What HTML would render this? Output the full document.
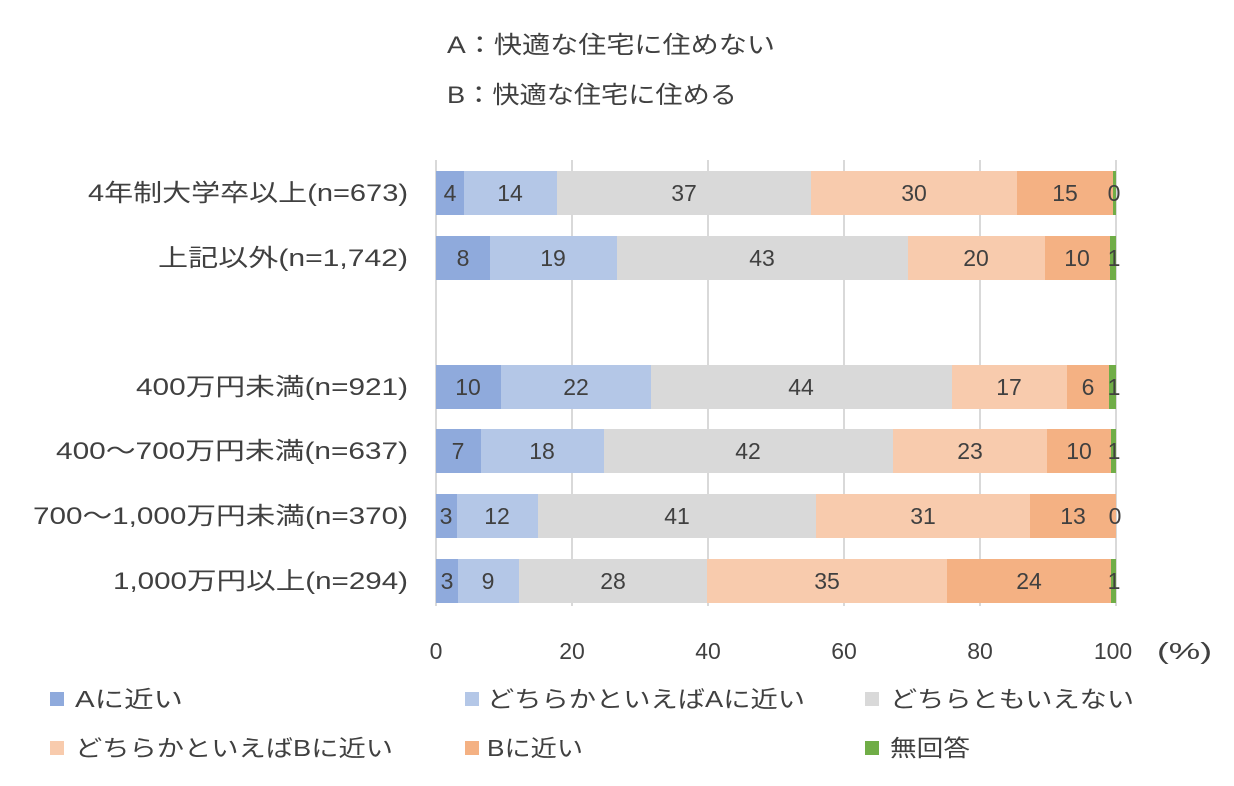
<!DOCTYPE html>
<html><head><meta charset="utf-8"><style>
body{margin:0;background:#fff;}
svg text{font-family:"Liberation Sans","Noto Sans CJK JP",sans-serif;fill:#404040;}
</style></head><body>
<svg width="1234" height="781" xmlns="http://www.w3.org/2000/svg">
<text x="447" y="53" font-size="24" textLength="328" lengthAdjust="spacingAndGlyphs">A：快適な住宅に住めない</text>
<text x="447" y="103" font-size="24" textLength="290" lengthAdjust="spacingAndGlyphs">B：快適な住宅に住める</text>
<g stroke="#d9d9d9" stroke-width="2">
<line x1="436" y1="160" x2="436" y2="606"/>
<line x1="572" y1="160" x2="572" y2="606"/>
<line x1="708" y1="160" x2="708" y2="606"/>
<line x1="844" y1="160" x2="844" y2="606"/>
<line x1="980" y1="160" x2="980" y2="606"/>
<line x1="1116" y1="160" x2="1116" y2="606"/>
</g>
<g>
<rect x="436" y="171" width="28" height="44" fill="#8faadc"/><rect x="464" y="171" width="93" height="44" fill="#b4c7e7"/><rect x="557" y="171" width="254" height="44" fill="#d9d9d9"/><rect x="811" y="171" width="206" height="44" fill="#f8cbad"/><rect x="1017" y="171" width="96" height="44" fill="#f4b183"/><rect x="1113" y="171" width="3" height="44" fill="#70ad47"/>
<rect x="436" y="236" width="54" height="44" fill="#8faadc"/><rect x="490" y="236" width="127" height="44" fill="#b4c7e7"/><rect x="617" y="236" width="291" height="44" fill="#d9d9d9"/><rect x="908" y="236" width="137" height="44" fill="#f8cbad"/><rect x="1045" y="236" width="65" height="44" fill="#f4b183"/><rect x="1110" y="236" width="6" height="44" fill="#70ad47"/>
<rect x="436" y="365" width="65" height="44" fill="#8faadc"/><rect x="501" y="365" width="150" height="44" fill="#b4c7e7"/><rect x="651" y="365" width="301" height="44" fill="#d9d9d9"/><rect x="952" y="365" width="115" height="44" fill="#f8cbad"/><rect x="1067" y="365" width="42" height="44" fill="#f4b183"/><rect x="1109" y="365" width="7" height="44" fill="#70ad47"/>
<rect x="436" y="429" width="45" height="44" fill="#8faadc"/><rect x="481" y="429" width="123" height="44" fill="#b4c7e7"/><rect x="604" y="429" width="289" height="44" fill="#d9d9d9"/><rect x="893" y="429" width="154" height="44" fill="#f8cbad"/><rect x="1047" y="429" width="64" height="44" fill="#f4b183"/><rect x="1111" y="429" width="5" height="44" fill="#70ad47"/>
<rect x="436" y="494" width="21" height="44" fill="#8faadc"/><rect x="457" y="494" width="81" height="44" fill="#b4c7e7"/><rect x="538" y="494" width="278" height="44" fill="#d9d9d9"/><rect x="816" y="494" width="214" height="44" fill="#f8cbad"/><rect x="1030" y="494" width="86" height="44" fill="#f4b183"/>
<rect x="436" y="559" width="22" height="44" fill="#8faadc"/><rect x="458" y="559" width="61" height="44" fill="#b4c7e7"/><rect x="519" y="559" width="188" height="44" fill="#d9d9d9"/><rect x="707" y="559" width="240" height="44" fill="#f8cbad"/><rect x="947" y="559" width="164" height="44" fill="#f4b183"/><rect x="1111" y="559" width="5" height="44" fill="#70ad47"/>
</g>
<g font-size="23" text-anchor="middle">
<text x="450" y="201">4</text><text x="510" y="201">14</text><text x="684" y="201">37</text><text x="914" y="201">30</text><text x="1065" y="201">15</text><text x="1114" y="201">0</text>
<text x="463" y="266">8</text><text x="553" y="266">19</text><text x="762" y="266">43</text><text x="976" y="266">20</text><text x="1077" y="266">10</text><text x="1114" y="266">1</text>
<text x="468" y="395">10</text><text x="576" y="395">22</text><text x="801" y="395">44</text><text x="1009" y="395">17</text><text x="1088" y="395">6</text><text x="1114" y="395">1</text>
<text x="458" y="459">7</text><text x="542" y="459">18</text><text x="748" y="459">42</text><text x="970" y="459">23</text><text x="1079" y="459">10</text><text x="1114" y="459">1</text>
<text x="446" y="524">3</text><text x="497" y="524">12</text><text x="677" y="524">41</text><text x="923" y="524">31</text><text x="1073" y="524">13</text><text x="1115" y="524">0</text>
<text x="447" y="589">3</text><text x="488" y="589">9</text><text x="613" y="589">28</text><text x="827" y="589">35</text><text x="1029" y="589">24</text><text x="1114" y="589">1</text>
</g>
<g font-size="23" text-anchor="middle">
<text x="436" y="659">0</text><text x="572" y="659">20</text><text x="708" y="659">40</text><text x="844" y="659">60</text><text x="980" y="659">80</text><text x="1113" y="659">100</text>
</g>
<text x="1157" y="659" font-size="23" textLength="55" lengthAdjust="spacingAndGlyphs">(%)</text>
<g font-size="24" text-anchor="end">
<text x="408" y="201" textLength="320" lengthAdjust="spacingAndGlyphs">4年制大学卒以上(n=673)</text>
<text x="408" y="266" textLength="250" lengthAdjust="spacingAndGlyphs">上記以外(n=1,742)</text>
<text x="408" y="395" textLength="272" lengthAdjust="spacingAndGlyphs">400万円未満(n=921)</text>
<text x="408" y="459" textLength="352" lengthAdjust="spacingAndGlyphs">400～700万円未満(n=637)</text>
<text x="408" y="524" textLength="375" lengthAdjust="spacingAndGlyphs">700～1,000万円未満(n=370)</text>
<text x="408" y="589" textLength="295" lengthAdjust="spacingAndGlyphs">1,000万円以上(n=294)</text>
</g>
<g font-size="23">
<rect x="50" y="692" width="14" height="14" fill="#8faadc"/><text x="75" y="707" textLength="108" lengthAdjust="spacingAndGlyphs">Aに近い</text>
<rect x="465" y="692" width="14" height="14" fill="#b4c7e7"/><text x="487" y="707" textLength="318" lengthAdjust="spacingAndGlyphs">どちらかといえばAに近い</text>
<rect x="865" y="692" width="14" height="14" fill="#d9d9d9"/><text x="890" y="707" textLength="244" lengthAdjust="spacingAndGlyphs">どちらともいえない</text>
<rect x="50" y="741" width="14" height="14" fill="#f8cbad"/><text x="75" y="756" textLength="318" lengthAdjust="spacingAndGlyphs">どちらかといえばBに近い</text>
<rect x="465" y="741" width="14" height="14" fill="#f4b183"/><text x="487" y="756" textLength="96" lengthAdjust="spacingAndGlyphs">Bに近い</text>
<rect x="865" y="741" width="14" height="14" fill="#70ad47"/><text x="890" y="756" textLength="80" lengthAdjust="spacingAndGlyphs">無回答</text>
</g>
</svg>
</body></html>
